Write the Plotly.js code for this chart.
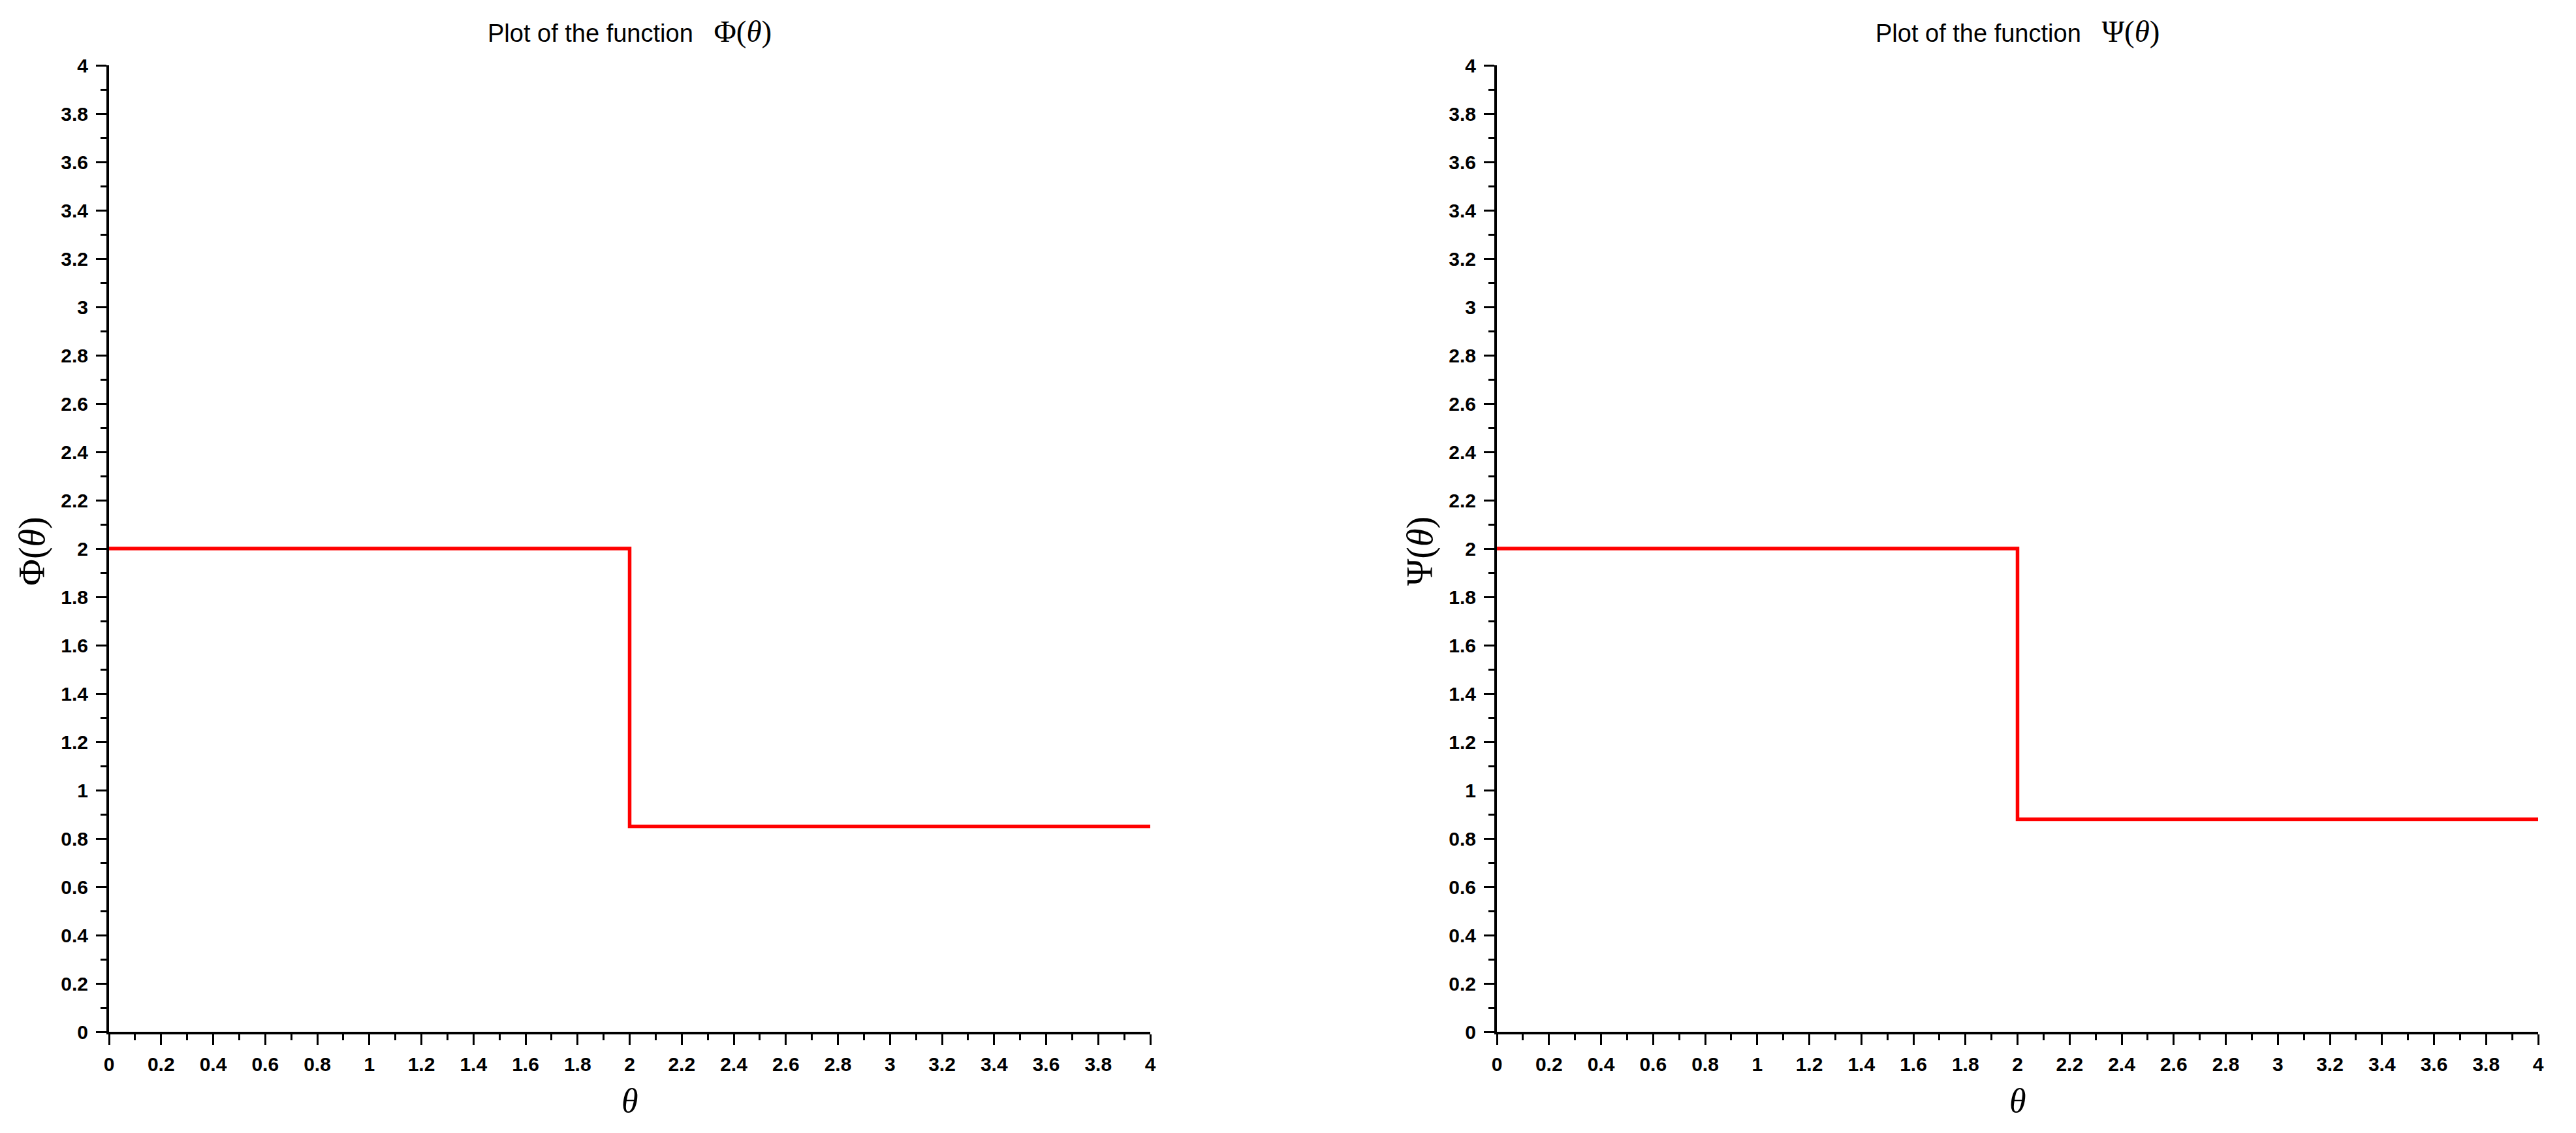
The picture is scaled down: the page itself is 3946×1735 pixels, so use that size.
<!DOCTYPE html>
<html>
<head>
<meta charset="utf-8">
<script src="https://cdn.plot.ly/plotly-3.0.1.min.js"></script>
<style>
    html, body { margin: 0; padding: 0; background: #ffffff; }
    #chart { width: 3946px; height: 1735px; }
</style>
</head>
<body>
<div id="chart"></div>
<script>
// ---------- Data ---------- //
const theta = [0, 2, 4]
const phiValues = [2, 0.85, 0.85]
const psiValues = [2, 0.88, 0.88]
const tickVals = [0, 0.2, 0.4, 0.6, 0.8, 1, 1.2, 1.4, 1.6, 1.8, 2, 2.2, 2.4, 2.6, 2.8, 3, 3.2, 3.4, 3.6, 3.8, 4]
const panelNames = ['Φ', 'Ψ']
// ---------- End of Data ---------- //

// ---------- Setup: Traces ---------- //
const stepLine = { color: '#ff0000', width: 5.5, shape: 'hv' }

const traces = [
    { x: theta, y: phiValues, xaxis: 'x', yaxis: 'y', type: 'scatter', mode: 'lines', line: stepLine },
    { x: theta, y: psiValues, xaxis: 'x2', yaxis: 'y2', type: 'scatter', mode: 'lines', line: stepLine },
]
// ---------- End of Traces ---------- //

// ---------- Setup: Axes ---------- //
const sans = 'Liberation Sans, Arial, sans-serif'
const serif = 'Liberation Serif, Times New Roman, serif'

function makeAxis(domain, anchor, standoff) {
    return {
        domain: domain,
        anchor: anchor,
        range: [0, 4],
        fixedrange: true,
        tickmode: 'array',
        tickvals: tickVals,
        ticks: 'outside',
        ticklen: 16,
        tickwidth: 3,
        tickcolor: '#000000',
        ticklabelstandoff: standoff,
        minor: { dtick: 0.1, ticks: 'outside', ticklen: 9, tickwidth: 3, tickcolor: '#000000', showgrid: false },
        showline: true,
        linecolor: '#000000',
        linewidth: 4,
        showgrid: false,
        zeroline: false,
        tickfont: { family: sans, size: 30, color: '#000000', weight: 'bold' },
    }
}

const xLeft = [167 / 3946, 1762 / 3946]
const xRight = [2293 / 3946, 3888 / 3946]
const yDom = [155 / 1735, 1635 / 1735]
// ---------- End of Axes ---------- //

// ---------- Setup: Titles (annotations) ---------- //
const annotations = []
const panels = [xLeft, xRight]
panels.forEach((dom, i) => {
    const mid = (dom[0] + dom[1]) / 2
    const name = panelNames[i]
    annotations.push({
        xref: 'paper', yref: 'paper', x: mid, y: 1 - 48 / 1735,
        xanchor: 'center', yanchor: 'middle', showarrow: false,
        text: 'Plot of the function\u00a0\u00a0\u00a0<span style="font-family:' + serif + ';font-size:47px">' + name + '(<i>θ</i>)</span>',
        font: { family: sans, size: 38, color: '#000000' },
    })
    annotations.push({
        xref: 'paper', yref: 'paper', x: mid, y: 1 - 1685 / 1735,
        xanchor: 'center', yanchor: 'middle', showarrow: false,
        text: '<i>θ</i>',
        font: { family: serif, size: 52, color: '#000000' },
    })
    annotations.push({
        xref: 'paper', yref: 'paper', x: dom[0] - 118 / 3946, y: 1 - 844 / 1735,
        xanchor: 'center', yanchor: 'middle', showarrow: false, textangle: -90,
        text: name + '(<i>θ</i>)',
        font: { family: serif, size: 56, color: '#000000' },
    })
})
// ---------- End of Titles ---------- //

const plotlyLayout = {
    width: 3946,
    height: 1735,
    margin: { t: 0, l: 0, r: 0, b: 0 },
    paper_bgcolor: '#ffffff',
    plot_bgcolor: '#ffffff',
    showlegend: false,
    xaxis: makeAxis(xLeft, 'y', 4),
    yaxis: makeAxis(yDom, 'x', 6),
    xaxis2: makeAxis(xRight, 'y2', 4),
    yaxis2: makeAxis(yDom, 'x2', 6),
    annotations: annotations,
}

const plotlyConfig = {
    displayModeBar: false,
    responsive: false,
}

Plotly.newPlot('chart', traces, plotlyLayout, plotlyConfig)
</script>
</body>
</html>
